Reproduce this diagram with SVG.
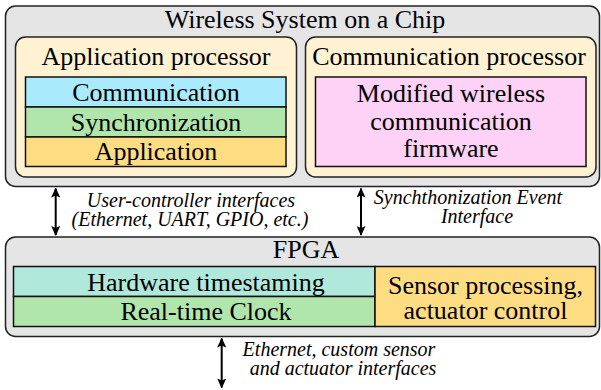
<svg xmlns="http://www.w3.org/2000/svg" width="601" height="390" viewBox="0 0 601 390">
  <defs>
    <marker id="head" viewBox="0 0 10 10" refX="9" refY="5" markerWidth="5" markerHeight="4.5" markerUnits="strokeWidth" orient="auto-start-reverse" preserveAspectRatio="none">
      <path d="M0,0 L10,5 L0,10 L2,5 Z" fill="#000"/>
    </marker>
  </defs>

  <!-- Wireless SoC container -->
  <g id="soc">
    <rect x="5.5" y="6" width="594" height="180.5" rx="10" fill="#e5e5e5" stroke="#222" stroke-width="1.5"/>
    <text x="305" y="28" font-family="Times New Roman" font-size="26" text-anchor="middle">Wireless System on a Chip</text>
  </g>

  <!-- Application processor with its software stack -->
  <g id="app-processor">
    <rect x="15.5" y="37" width="281" height="140" rx="10" fill="#fff2d2" stroke="#222" stroke-width="1.5"/>
    <text x="156" y="65" font-family="Times New Roman" font-size="26" text-anchor="middle">Application processor</text>
    <g stroke="#111" stroke-width="1.5">
      <rect x="25.5" y="77" width="260.5" height="30" fill="#aaeafd"/>
      <rect x="25.5" y="107" width="260.5" height="30" fill="#b0e6ab"/>
      <rect x="25.5" y="137" width="260.5" height="29.5" fill="#fedd82"/>
    </g>
    <text x="156" y="101" font-family="Times New Roman" font-size="26" text-anchor="middle">Communication</text>
    <text x="156" y="131" font-family="Times New Roman" font-size="26" text-anchor="middle">Synchronization</text>
    <text x="156" y="160" font-family="Times New Roman" font-size="26" text-anchor="middle">Application</text>
  </g>

  <!-- Communication processor -->
  <g id="comm-processor">
    <rect x="305.5" y="37" width="290.5" height="140" rx="10" fill="#fff2d2" stroke="#222" stroke-width="1.5"/>
    <text x="449" y="65" font-family="Times New Roman" font-size="26" text-anchor="middle">Communication processor</text>
    <rect x="315.5" y="77" width="270.5" height="89.5" fill="#fdd2f6" stroke="#111" stroke-width="1.5"/>
    <text x="451" y="102" font-family="Times New Roman" font-size="26" text-anchor="middle">Modified wireless</text>
    <text x="451" y="129.5" font-family="Times New Roman" font-size="26" text-anchor="middle">communication</text>
    <text x="451" y="157" font-family="Times New Roman" font-size="26" text-anchor="middle">firmware</text>
  </g>

  <!-- FPGA -->
  <g id="fpga">
    <rect x="5.5" y="237" width="594" height="99.5" rx="10" fill="#e5e5e5" stroke="#222" stroke-width="1.5"/>
    <text x="306" y="258" font-family="Times New Roman" font-size="26" text-anchor="middle">FPGA</text>
    <g stroke="#111" stroke-width="1.5">
      <rect x="13.5" y="266.5" width="361.5" height="30" fill="#b0e8dc"/>
      <rect x="13.5" y="296.5" width="361.5" height="30" fill="#b0e6ab"/>
      <rect x="375" y="266.5" width="220.5" height="60" fill="#fedd82"/>
    </g>
    <text x="206" y="291" font-family="Times New Roman" font-size="26" text-anchor="middle">Hardware timestaming</text>
    <text x="206" y="320" font-family="Times New Roman" font-size="26" text-anchor="middle">Real-time Clock</text>
    <text x="485.5" y="294" font-family="Times New Roman" font-size="26" text-anchor="middle">Sensor processing,</text>
    <text x="485.5" y="319" font-family="Times New Roman" font-size="26" text-anchor="middle">actuator control</text>
  </g>

  <!-- Interfaces between blocks -->
  <g id="connectors">
    <g stroke="#000" stroke-width="2" fill="none" marker-start="url(#head)" marker-end="url(#head)">
      <line x1="55.7" y1="188.5" x2="55.7" y2="235"/>
      <line x1="361" y1="188.5" x2="361" y2="235"/>
      <line x1="221.7" y1="338.5" x2="221.7" y2="387.5"/>
    </g>
    <text x="191" y="207" font-family="Times New Roman" font-size="20" font-style="italic" text-anchor="middle">User-controller interfaces</text>
    <text x="190" y="226" font-family="Times New Roman" font-size="20" font-style="italic" text-anchor="middle">(Ethernet, UART, GPIO, etc.)</text>
    <text x="468" y="204" font-family="Times New Roman" font-size="20" font-style="italic" text-anchor="middle">Synchthonization Event</text>
    <text x="477" y="223" font-family="Times New Roman" font-size="20" font-style="italic" text-anchor="middle">Interface</text>
    <text x="339" y="356" font-family="Times New Roman" font-size="20" font-style="italic" text-anchor="middle">Ethernet, custom sensor</text>
    <text x="343" y="375" font-family="Times New Roman" font-size="20" font-style="italic" text-anchor="middle">and actuator interfaces</text>
  </g>
</svg>
